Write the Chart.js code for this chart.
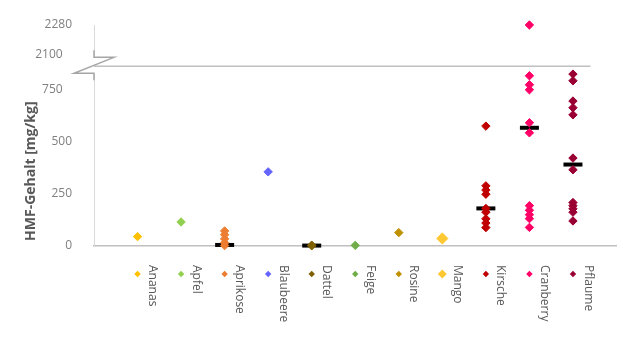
<!DOCTYPE html>
<html>
<head>
<meta charset="utf-8">
<script src="https://cdn.jsdelivr.net/npm/chart.js@4.4.1/dist/chart.umd.min.js"></script>
<style>
  html, body { margin: 0; padding: 0; background: #ffffff; }
  canvas { display: block; }
</style>
</head>
<body>
<canvas id="chart" width="630" height="349"></canvas>
<script>
// Fruit categories, in plotting order (x = 1 … 11)
const categories = ['Ananas', 'Apfel', 'Aprikose', 'Blaubeere', 'Dattel', 'Feige',
                    'Rosine', 'Mango', 'Kirsche', 'Cranberry', 'Pflaume'];

// HMF content per sample [mg/kg]
const ananas    = [45];
const apfel     = [115];
const aprikose  = [72, 54, 34, 15, 2];
const blaubeere = [355];
const dattel    = [4, 1];
const feige     = [3];
const rosine    = [64];
const mango     = [36];
const kirsche   = [574, 288, 268, 248, 180, 162, 130, 110, 88];
const cranberry = [2280, 815, 772, 748, 590, 542, 193, 171, 150, 131, 89];
const pflaume   = [823, 791, 694, 662, 628, 421, 365, 208, 193, 178, 162, 120];

// Median markers
const medianCategories = ['Aprikose', 'Dattel', 'Kirsche', 'Cranberry', 'Pflaume'];
const medianValues     = [5, 2, 180, 566, 390];

// Tick labels of the two axis segments
const lowerTicks = [0, 250, 500, 750];
const upperTicks = [2100, 2280];

const yTitle = 'HMF-Gehalt [mg/kg]';

// ---- styling ----
const colors = ['#ffc000', '#92d050', '#ed7d31', '#6464ff', '#7f6000', '#70ad47',
                '#bf9000', '#ffc832', '#c00000', '#ff0066', '#990033'];
const LOWER_MAX = 860, UPPER_MIN = 2025, UPPER_MAX = 2280;
const FONT = '"Open Sans", "DejaVu Sans", sans-serif';

const series = [ananas, apfel, aprikose, blaubeere, dattel, feige,
                rosine, mango, kirsche, cranberry, pflaume];
const markerRadius = name => (name === 'Mango' ? 5.6 : 4.2);

const datasets = [];
categories.forEach((name, i) => {
  const vals = series[i];
  const base = {
    label: name,
    pointStyle: 'rectRot',
    pointRadius: markerRadius(name),
    pointHoverRadius: markerRadius(name),
    backgroundColor: colors[i],
    borderColor: colors[i],
    borderWidth: 1,
    clip: false
  };
  const low = vals.filter(v => v <= LOWER_MAX).map(v => ({ x: i + 1, y: v }));
  const high = vals.filter(v => v >= UPPER_MIN).map(v => ({ x: i + 1, y: v }));
  if (low.length) datasets.push(Object.assign({}, base, { data: low, yAxisID: 'y' }));
  if (high.length) datasets.push(Object.assign({}, base, { data: high, yAxisID: 'yTop' }));
});
datasets.push({
  label: 'Median',
  data: medianCategories.map((c, k) => ({ x: categories.indexOf(c) + 1, y: medianValues[k] })),
  yAxisID: 'y',
  pointStyle: 'line',
  pointRadius: 9.5,
  pointHoverRadius: 9.5,
  borderColor: '#000000',
  backgroundColor: '#000000',
  borderWidth: 4,
  clip: false
});

const tickFont = { family: FONT, size: 12 };
// labels next to the axis break sit a little further left
const tickText = v => (v === 2100 || v === 750) ? v + '   ' : String(v);

// Axis break symbol and the upper segment's base line
const axisBreak = {
  id: 'axisBreak',
  afterDraw(chart) {
    const ctx = chart.ctx;
    const x0 = chart.chartArea.left;
    const yb = chart.scales.yTop.bottom;
    ctx.save();
    ctx.fillStyle = '#ffffff';
    ctx.fillRect(x0 - 3, yb - 9, 6, 16);
    ctx.strokeStyle = '#c0c0c0';
    ctx.lineWidth = 1.5;
    ctx.beginPath();
    ctx.moveTo(x0, yb);
    ctx.lineTo(chart.chartArea.right - 26, yb);
    ctx.stroke();
    ctx.strokeStyle = '#a6a6a6';
    ctx.lineWidth = 1.5;
    ctx.beginPath();
    ctx.moveTo(x0, yb - 16);
    ctx.lineTo(x0, yb - 9);
    ctx.lineTo(x0 + 20, yb - 9);
    ctx.lineTo(x0 - 20, yb + 7);
    ctx.lineTo(x0, yb + 7);
    ctx.lineTo(x0, yb + 14);
    ctx.stroke();
    ctx.restore();
  }
};

// Y title and the category legend beneath the plot
const labels = {
  id: 'labels',
  afterDraw(chart) {
    const ctx = chart.ctx;
    const ys = chart.scales.y;
    const xs = chart.scales.x;
    const bottom = chart.chartArea.bottom;
    ctx.save();
    ctx.fillStyle = '#595959';
    ctx.font = 'bold 14px ' + FONT;
    ctx.textAlign = 'center';
    ctx.textBaseline = 'middle';
    ctx.translate(31, (ys.top + ys.bottom) / 2 + 15);
    ctx.rotate(-Math.PI / 2);
    ctx.fillText(yTitle, 0, 0);
    ctx.restore();

    categories.forEach((name, i) => {
      const x = xs.getPixelForValue(i + 1);
      const r = name === 'Mango' ? 4.5 : 3.2;
      const my = bottom + 28;
      ctx.save();
      ctx.fillStyle = colors[i];
      ctx.beginPath();
      ctx.moveTo(x, my - r);
      ctx.lineTo(x + r, my);
      ctx.lineTo(x, my + r);
      ctx.lineTo(x - r, my);
      ctx.closePath();
      ctx.fill();
      ctx.fillStyle = '#595959';
      ctx.font = '12px ' + FONT;
      ctx.textAlign = 'left';
      ctx.textBaseline = 'middle';
      ctx.translate(x + 15, bottom + 19);
      ctx.rotate(Math.PI / 2);
      ctx.fillText(name, 0, 0);
      ctx.restore();
    });
  }
};

new Chart(document.getElementById('chart'), {
  type: 'scatter',
  data: { datasets },
  options: {
    responsive: false,
    animation: false,
    devicePixelRatio: 1,
    layout: { padding: { top: 25, right: 12, bottom: 103, left: 0 } },
    plugins: { legend: { display: false }, tooltip: { enabled: false } },
    scales: {
      x: {
        type: 'linear', min: 0, max: 12,
        grid: { display: false },
        ticks: { display: false },
        border: { color: '#bfbfbf', width: 1.5 },
        afterFit: s => { s.height = 0; }
      },
      y: {
        type: 'linear', position: 'left', stack: 'hmf', stackWeight: 178,
        min: 0, max: LOWER_MAX,
        grid: { display: false },
        border: { color: '#d9d9d9', width: 1 },
        ticks: { font: tickFont, color: '#808080', padding: 14, callback: tickText },
        afterBuildTicks: s => { s.ticks = lowerTicks.map(v => ({ value: v })); },
        afterFit: s => { s.width = 94; }
      },
      yTop: {
        type: 'linear', position: 'left', stack: 'hmf', stackWeight: 41,
        min: UPPER_MIN, max: UPPER_MAX,
        grid: { display: false },
        border: { color: '#d9d9d9', width: 1 },
        ticks: { font: tickFont, color: '#808080', padding: 14, callback: tickText },
        afterBuildTicks: s => { s.ticks = upperTicks.map(v => ({ value: v })); },
        afterFit: s => { s.width = 94; }
      }
    }
  },
  plugins: [axisBreak, labels]
});
</script>
</body>
</html>
